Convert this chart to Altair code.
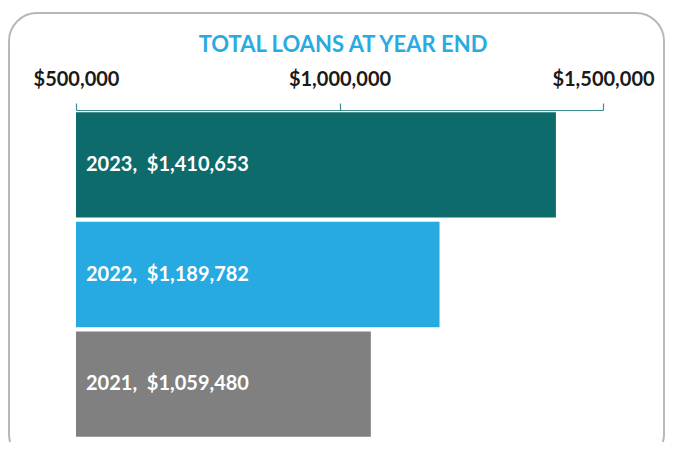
import altair as alt
import pandas as pd

years = ["2023", "2022", "2021"]
loans = [1410653, 1189782, 1059480]
labels = ["2023,\u00a0 $1,410,653", "2022,\u00a0 $1,189,782", "2021,\u00a0 $1,059,480"]
bar_colors = ["#0e6b6b", "#27aae1", "#808080"]
tick_values = [500000, 1000000, 1500000]
title_text = ["TOTAL LOANS AT YEAR END"]

df = pd.DataFrame({"year": years, "loans": loans, "label": labels})
FONT = "Lato"

x_scale = alt.Scale(domain=[500000, 1500000], zero=False, nice=False)
y_enc = alt.Y("year:N", sort=years, axis=None,
              scale=alt.Scale(paddingInner=0.04, paddingOuter=0.02))

bars = alt.Chart(df).mark_bar().encode(
    x=alt.X("loans:Q", scale=x_scale, title=None,
            axis=alt.Axis(orient="top", values=tick_values, format="$,.0f",
                          labelFont=FONT, labelFontSize=20, labelFontWeight="bold",
                          labelColor="#1a1a1a", labelPadding=14,
                          domainColor="#3d8c8c", tickColor="#3d8c8c",
                          tickSize=7, domainWidth=1.2, tickWidth=1.2,
                          grid=False, labelFlush=False)),
    x2=alt.datum(500000),
    y=y_enc,
    color=alt.Color("year:N", scale=alt.Scale(domain=years, range=bar_colors), legend=None),
)

text = alt.Chart(df).mark_text(
    align="left", baseline="middle", dx=10, font=FONT, fontSize=20,
    fontWeight="bold", color="white"
).encode(
    x=alt.datum(500000),
    y=y_enc,
    text="label:N",
)

frame = alt.Chart(pd.DataFrame({"a": [0]})).mark_rect(
    filled=False, stroke="#b3b9bf", strokeWidth=2, cornerRadius=28
).encode(
    x=alt.value(-67), x2=alt.value(588), y=alt.value(-97), y2=alt.value(352)
)

title = alt.Chart(pd.DataFrame({"t": title_text})).mark_text(
    align="center", baseline="alphabetic", font=FONT, fontSize=22,
    fontWeight="bold", color="#29abe2"
).encode(
    x=alt.value(267), y=alt.value(-58), text="t:N"
)

chart = alt.layer(frame, bars, text, title).properties(
    width=527, height=329,
    background="white",
    autosize=alt.AutoSizeParams(type="none"),
    padding={"left": 68, "top": 102, "right": 63, "bottom": 3},
).configure_view(stroke=None, strokeWidth=0)

chart.save("out.html", embed_options={"renderer": "svg", "actions": False})
